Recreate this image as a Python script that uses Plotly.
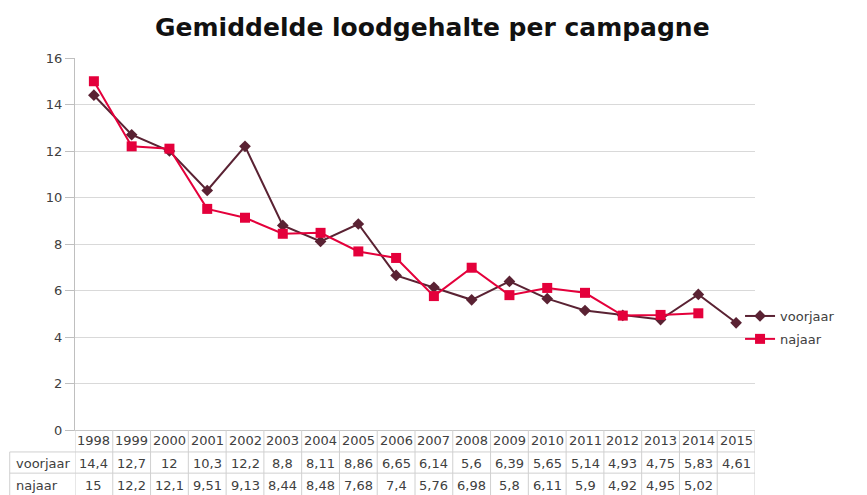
import plotly.graph_objects as go

years = list(range(1998, 2016))
voorjaar = [14.4, 12.7, 12, 10.3, 12.2, 8.8, 8.11, 8.86, 6.65, 6.14, 5.6, 6.39, 5.65, 5.14, 4.93, 4.75, 5.83, 4.61]
najaar = [15, 12.2, 12.1, 9.51, 9.13, 8.44, 8.48, 7.68, 7.4, 5.76, 6.98, 5.8, 6.11, 5.9, 4.92, 4.95, 5.02, None]
y_ticks = [0, 2, 4, 6, 8, 10, 12, 14, 16]

c_v = "#5a2233"
c_n = "#e4003b"
font = "DejaVu Sans"
txt = "#404040"

fig = go.Figure()
fig.add_trace(go.Scatter(x=years, y=voorjaar, name="voorjaar", mode="lines+markers", legendgroup="v",
                         line=dict(color=c_v, width=2),
                         marker=dict(symbol="diamond", size=9, color=c_v)))
fig.add_trace(go.Scatter(x=years, y=najaar, name="najaar", mode="lines+markers", legendgroup="n",
                         line=dict(color=c_n, width=2),
                         marker=dict(symbol="square", size=10, color=c_n)))

def fmt(v):
    if v is None:
        return ""
    return ("%g" % v).replace(".", ",")

ann = []
row_y = [-0.028, -0.089, -0.150]
tf = dict(size=13, color=txt, family=font)
for i, yr in enumerate(years):
    for ry, t in zip(row_y, [str(yr), fmt(voorjaar[i]), fmt(najaar[i])]):
        ann.append(dict(x=yr, y=ry, xref="x", yref="paper", text=t, showarrow=False,
                        xanchor="center", yanchor="middle", font=tf))
ann.append(dict(x=-0.09, y=row_y[1], xref="paper", yref="paper", text="voorjaar", showarrow=False,
                xanchor="left", yanchor="middle", font=tf))
ann.append(dict(x=-0.09, y=row_y[2], xref="paper", yref="paper", text="najaar", showarrow=False,
                xanchor="left", yanchor="middle", font=tf))

shapes = []
lc = "#d0d0d0"
for i in range(len(years) + 1):
    xv = years[0] - 0.5 + i
    shapes.append(dict(type="line", xref="x", yref="paper", x0=xv, x1=xv, y0=0, y1=-0.2,
                       line=dict(color=lc, width=1)))
for yy in [-0.059, -0.116]:
    shapes.append(dict(type="line", xref="paper", yref="paper", x0=-0.096, x1=1, y0=yy, y1=yy,
                       line=dict(color=lc, width=1)))
shapes.append(dict(type="line", xref="paper", yref="paper", x0=-0.096, x1=-0.096, y0=-0.059, y1=-0.2,
                   line=dict(color=lc, width=1)))

fig.update_layout(
    width=859, height=487,
    margin=dict(l=67, r=112, t=50, b=65),
    paper_bgcolor="white", plot_bgcolor="white",
    title=dict(text="<b>Gemiddelde loodgehalte per campagne</b>", x=0.494, xanchor="center",
               y=0.961, yanchor="middle", font=dict(size=25, color="#111111", family=font)),
    xaxis=dict(range=[1997.5, 2015.5], showticklabels=False, showgrid=False, zeroline=False,
               showline=True, linecolor="#c8c8c8", ticks=""),
    yaxis=dict(range=[0, 16], tickvals=y_ticks, showgrid=True, gridcolor="#d9d9d9",
               zeroline=False, showline=True, linecolor="#bfbfbf", ticks="outside", ticklen=9,
               tickcolor="#bfbfbf", tickfont=dict(size=13, color=txt, family=font)),
    legend=dict(x=0.978, y=0.2755, xanchor="left", yanchor="middle", bgcolor="rgba(0,0,0,0)",
                itemwidth=30, traceorder="grouped", tracegroupgap=3,
                font=dict(size=13, color=txt, family=font)),
    annotations=ann, shapes=shapes, showlegend=True,
)
fig.write_html("out.html")
